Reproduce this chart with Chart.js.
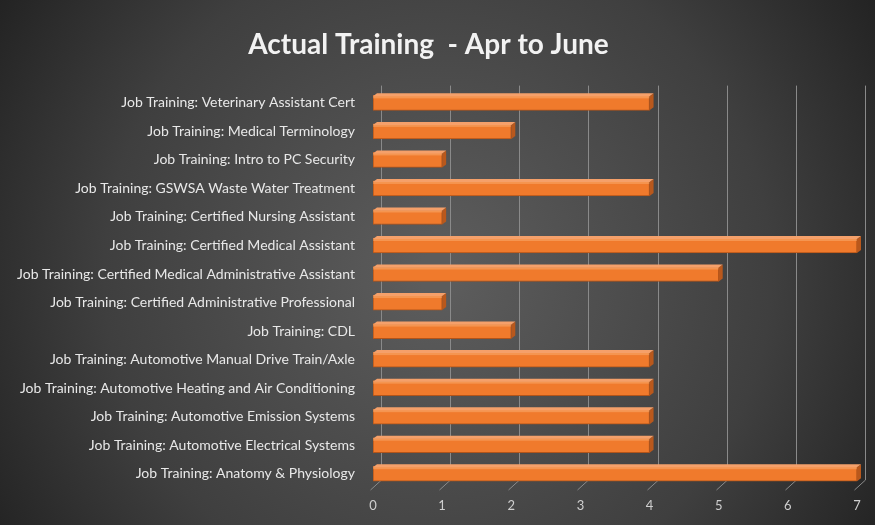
<!DOCTYPE html>
<html>
<head>
<meta charset="utf-8">
<script src="https://cdn.jsdelivr.net/npm/chart.js@4"></script>
<style>
  html, body { margin: 0; padding: 0; background: #2a2a2a; }
  #wrap { width: 875px; height: 525px; }
</style>
</head>
<body>
<div id="wrap"><canvas id="chart" width="875" height="525"></canvas></div>
<script>
const courses = [
    'Job Training: Veterinary Assistant Cert',
    'Job Training: Medical Terminology',
    'Job Training: Intro to PC Security',
    'Job Training: GSWSA Waste Water Treatment',
    'Job Training: Certified Nursing Assistant',
    'Job Training: Certified Medical Assistant',
    'Job Training: Certified Medical Administrative Assistant',
    'Job Training: Certified Administrative Professional',
    'Job Training: CDL',
    'Job Training: Automotive Manual Drive Train/Axle',
    'Job Training: Automotive Heating and Air Conditioning',
    'Job Training: Automotive Emission Systems',
    'Job Training: Automotive Electrical Systems',
    'Job Training: Anatomy & Physiology'
];
const trainees = [4, 2, 1, 4, 1, 7, 5, 1, 2, 4, 4, 4, 4, 7];
const xTicks = [0, 1, 2, 3, 4, 5, 6, 7];

// dark radial backdrop
const backdrop = {
    id: 'backdrop',
    beforeDraw(chart) {
        const ctx = chart.ctx;
        const w = chart.width, h = chart.height;
        const g = ctx.createRadialGradient(w * 0.5, h * 0.52, 20, w * 0.5, h * 0.52, w * 0.62);
        g.addColorStop(0, '#5c5c5c');
        g.addColorStop(0.6, '#3f3f3f');
        g.addColorStop(1, '#1f1f1f');
        ctx.save();
        ctx.fillStyle = g;
        ctx.fillRect(0, 0, w, h);
        ctx.restore();
    }
};

// back-wall gridlines, shifted for the 3D look
const wallGrid = {
    id: 'wallGrid',
    beforeDatasetsDraw(chart) {
        const ctx = chart.ctx;
        const xs = chart.scales.x;
        const area = chart.chartArea;
        ctx.save();
        ctx.strokeStyle = '#8a8a8a';
        ctx.lineWidth = 1;
        xTicks.forEach(v => {
            const gx = Math.round(xs.getPixelForValue(v) + 8) + 0.5;
            ctx.beginPath();
            ctx.moveTo(gx, area.top - 3);
            ctx.lineTo(gx, area.bottom - 8);
            ctx.lineTo(gx - 11, area.bottom + 2);
            ctx.stroke();
        });
        ctx.restore();
    }
};

// top highlight and end cap on each bar
const barFaces = {
    id: 'barFaces',
    afterDatasetsDraw(chart) {
        const ctx = chart.ctx;
        const meta = chart.getDatasetMeta(0);
        ctx.save();
        meta.data.forEach(bar => {
            const top = bar.y - bar.height / 2;
            const bottom = bar.y + bar.height / 2;
            ctx.fillStyle = 'rgba(255,200,150,0.35)';
            ctx.fillRect(bar.base, top, bar.x - bar.base, 3);
            ctx.fillStyle = '#b9581c';
            ctx.beginPath();
            ctx.moveTo(bar.x, top + 1);
            ctx.lineTo(bar.x + 4, top - 2);
            ctx.lineTo(bar.x + 4, bottom - 3);
            ctx.lineTo(bar.x, bottom);
            ctx.closePath();
            ctx.fill();
            ctx.fillStyle = '#f5a06a';
            ctx.beginPath();
            ctx.moveTo(bar.base, top + 1);
            ctx.lineTo(bar.base + 4, top - 2);
            ctx.lineTo(bar.x + 4, top - 2);
            ctx.lineTo(bar.x, top + 1);
            ctx.closePath();
            ctx.fill();
        });
        ctx.restore();
    }
};

new Chart(document.getElementById('chart'), {
    type: 'bar',
    data: {
        labels: courses,
        datasets: [{
            label: 'Actual Training',
            data: trainees,
            backgroundColor: '#f07a2c',
            borderColor: '#b35419',
            borderWidth: 1,
            borderSkipped: false,
            barThickness: 15
        }]
    },
    plugins: [backdrop, wallGrid, barFaces],
    options: {
        indexAxis: 'y',
        responsive: false,
        animation: false,
        layout: { padding: { left: 0, right: 18, top: 0, bottom: 0 } },
        plugins: {
            legend: { display: false },
            tooltip: { enabled: false },
            title: {
                display: true,
                text: 'Actual Training  - Apr to June',
                color: '#f2f2f2',
                font: { family: 'Lato', size: 28, weight: 'bold' },
                padding: { top: 28, bottom: 27 }
            }
        },
        scales: {
            x: {
                min: 0,
                max: 7,
                afterBuildTicks(scale) {
                    scale.ticks = xTicks.map(v => ({ value: v }));
                },
                grid: { display: false },
                border: { display: false },
                ticks: {
                    color: '#cfcfcf',
                    font: { family: 'Lato', size: 13 },
                    padding: 2
                },
                afterFit(scale) { scale.height = 37; }
            },
            y: {
                grid: { display: false },
                border: { display: false },
                ticks: {
                    color: '#e8e8e8',
                    font: { family: 'Lato', size: 14 },
                    padding: 10,
                    autoSkip: false
                },
                afterFit(scale) { scale.width = 373; }
            }
        }
    }
});
</script>
</body>
</html>
